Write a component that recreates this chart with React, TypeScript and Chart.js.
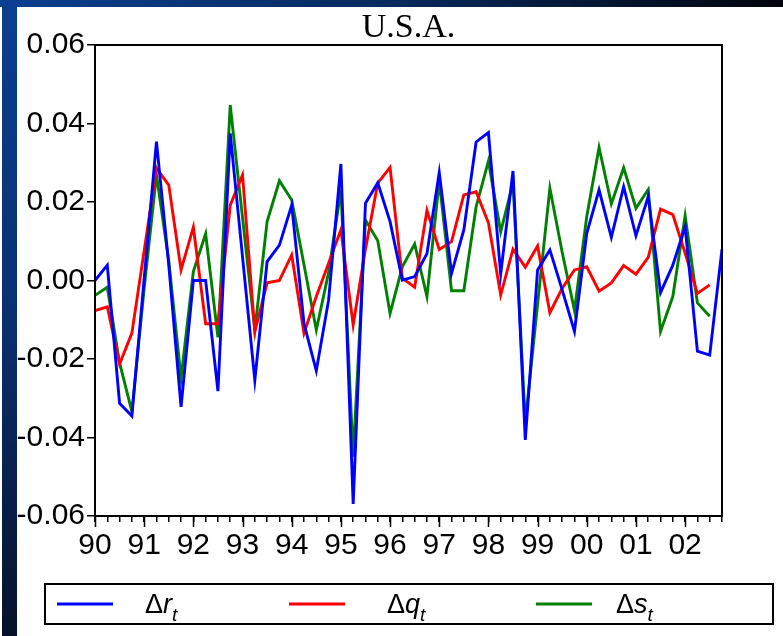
import React, { useEffect, useRef } from "react";
import { Chart, registerables } from "chart.js";
Chart.register(...registerables);

const years = ["90", "91", "92", "93", "94", "95", "96", "97", "98", "99", "00", "01", "02"];
const quarters = ["Q1", "Q2", "Q3", "Q4"];
const categories = years.flatMap((y) => quarters.map((q) => y + q));
const yTickLabels = ["-0.06", "-0.04", "-0.02", "0.00", "0.02", "0.04", "0.06"];
const chartTitle = "U.S.A.";
const seriesLetters = ["r", "q", "s"];
const seriesColors = ["#0000FF", "#FF0000", "#008000"];

const dR = [
  0.0, 0.0039, -0.0313, -0.0345, 0.0005, 0.0354, 0.004, -0.0322,
  0.0, 0.0, -0.0282, 0.0375, 0.006, -0.0254, 0.0048, 0.009,
  0.0192, -0.011, -0.023, -0.005, 0.0297, -0.0569, 0.0197, 0.0249,
  0.015, 0.0001, 0.001, 0.0068, 0.0275, 0.0018, 0.0129, 0.0353,
  0.0377, 0.0017, 0.0279, -0.0406, 0.0027, 0.0078, -0.0024, -0.013,
  0.012, 0.0231, 0.011, 0.0239, 0.0114, 0.0214, -0.0031, 0.0039,
  0.0137, -0.018, -0.019, 0.008,
];
const dQ = [
  -0.0077, -0.0067, -0.0213, -0.0134, 0.0076, 0.0286, 0.0243, 0.0027,
  0.0136, -0.011, -0.011, 0.0192, 0.0269, -0.013, -0.0006, 0.0,
  0.0065, -0.0134, -0.0041, 0.0044, 0.0129, -0.0113, 0.008, 0.0248,
  0.0288, 0.0006, -0.0017, 0.0178, 0.0079, 0.0099, 0.0218, 0.0226,
  0.0147, -0.0037, 0.008, 0.0034, 0.0088, -0.0082, -0.002, 0.0027,
  0.0035, -0.0027, -0.0006, 0.0038, 0.0016, 0.0059, 0.0182, 0.0168,
  0.007, -0.0033, -0.0011, null,
];
const dS = [
  -0.0038, -0.0017, -0.021, -0.0334, -0.002, 0.0269, 0.005, -0.0249,
  0.0023, 0.0119, -0.0145, 0.0447, 0.016, -0.0126, 0.015, 0.0254,
  0.0205, 0.004, -0.0126, 0.002, 0.0231, -0.0449, 0.0154, 0.0101,
  -0.0084, 0.0035, 0.0093, -0.0041, 0.0254, -0.0026, -0.0026, 0.0188,
  0.0304, 0.0124, 0.0249, -0.0362, -0.006, 0.0235, 0.0072, -0.0076,
  0.0163, 0.0339, 0.0195, 0.0287, 0.0184, 0.0232, -0.013, -0.0041,
  0.0165, -0.0057, -0.0091, null,
];
const seriesData = [dR, dQ, dS];

const SANS = "'Liberation Sans Narrow', 'Arial Narrow', 'Liberation Sans', Arial, sans-serif";
const SERIF = "'Liberation Serif', 'Times New Roman', serif";

const decorPlugin = {
  id: "decor",
  beforeDraw(chart: any) {
    const { ctx, width, height } = chart;
    ctx.save();
    ctx.fillStyle = "#ffffff";
    ctx.fillRect(0, 0, width, height);
    const g1 = ctx.createLinearGradient(0, 0, 0, height);
    g1.addColorStop(0, "#0b3f8f");
    g1.addColorStop(0.5, "#0a3070");
    g1.addColorStop(1, "#07112a");
    ctx.fillStyle = g1;
    ctx.fillRect(2, 0, 15, height);
    const g2 = ctx.createLinearGradient(0, 0, width, 0);
    g2.addColorStop(0, "#0b3f8f");
    g2.addColorStop(0.5, "#082a5e");
    g2.addColorStop(1, "#01040a");
    ctx.fillStyle = g2;
    ctx.fillRect(0, 0, width, 7);
    ctx.restore();
  },
  afterDraw(chart: any) {
    const { ctx, chartArea } = chart;
    const { left, right, top, bottom } = chartArea;
    const xs = chart.scales.x;
    ctx.save();
    // frame
    ctx.strokeStyle = "#000";
    ctx.lineWidth = 2;
    ctx.strokeRect(left, top, right - left, bottom - top);
    // major (yearly) ticks
    ctx.lineWidth = 1.5;
    ctx.beginPath();
    categories.forEach((_, i) => {
      if (i % 4 === 0) {
        const px = Math.round(xs.getPixelForValue(i)) + 0.5;
        ctx.moveTo(px, bottom);
        ctx.lineTo(px, bottom + 11);
      }
    });
    ctx.stroke();
    // title
    ctx.fillStyle = "#000";
    ctx.font = `34px ${SERIF}`;
    ctx.textAlign = "center";
    ctx.textBaseline = "alphabetic";
    ctx.fillText(chartTitle, (left + right) / 2, 37);
    // legend box
    ctx.lineWidth = 2;
    ctx.strokeRect(45, 584, 728, 40);
    const lineStarts = [57, 289, 536];
    const textStarts = [145, 387, 616];
    seriesLetters.forEach((letter, k) => {
      ctx.strokeStyle = seriesColors[k];
      ctx.lineWidth = 3;
      ctx.beginPath();
      ctx.moveTo(lineStarts[k], 604);
      ctx.lineTo(lineStarts[k] + 56, 604);
      ctx.stroke();
      ctx.fillStyle = "#000";
      ctx.textAlign = "left";
      let x = textStarts[k];
      ctx.font = `27px ${SANS}`;
      ctx.fillText("\u0394", x, 613);
      x += ctx.measureText("\u0394").width;
      ctx.font = `italic 27px ${SANS}`;
      ctx.fillText(letter, x, 613);
      x += ctx.measureText(letter).width;
      ctx.font = `italic 19px ${SANS}`;
      ctx.fillText("t", x, 621);
    });
    ctx.restore();
  },
};

export default function App() {
  const ref = useRef<HTMLCanvasElement | null>(null);
  useEffect(() => {
    if (!ref.current) return;
    const chart = new Chart(ref.current, {
      type: "line",
      data: {
        labels: categories,
        datasets: seriesData.map((d, k) => ({
          label: "\u0394" + seriesLetters[k],
          data: d,
          borderColor: seriesColors[k],
          backgroundColor: seriesColors[k],
          borderWidth: 2.9,
          pointRadius: 0,
          fill: false,
          tension: 0,
          spanGaps: false,
        })),
      },
      options: {
        responsive: false,
        animation: false,
        devicePixelRatio: 1,
        layout: { padding: { left: 17, right: 61, top: 45, bottom: 70 } },
        plugins: { legend: { display: false }, title: { display: false }, tooltip: { enabled: false } },
        scales: {
          x: {
            type: "category",
            offset: false,
            afterFit: (s: any) => {
              s.height = 50;
            },
            grid: { drawOnChartArea: false, drawTicks: true, tickLength: 6, color: "#000", lineWidth: 1.5 },
            border: { display: true, color: "#000", width: 2 },
            ticks: {
              autoSkip: false,
              maxRotation: 0,
              minRotation: 0,
              padding: 6,
              color: "#000",
              font: { family: SANS, size: 30 },
              callback: (_v: any, i: number) => (i % 4 === 0 ? years[i / 4] : ""),
            },
          },
          y: {
            min: -0.06,
            max: 0.06,
            afterFit: (s: any) => {
              s.width = 78;
            },
            grid: { drawOnChartArea: false, drawTicks: true, tickLength: 8, color: "#000", lineWidth: 1.5 },
            border: { display: true, color: "#000", width: 2 },
            ticks: {
              stepSize: 0.02,
              padding: 2,
              color: "#000",
              font: { family: SANS, size: 30 },
              callback: (_v: any, i: number) => yTickLabels[i],
            },
          },
        },
      },
      plugins: [decorPlugin],
    });
    return () => chart.destroy();
  }, []);
  return (
    <div style={{ position: "absolute", left: 0, top: 0, width: 783, height: 636 }}>
      <canvas ref={ref} width={783} height={636} style={{ width: 783, height: 636, display: "block" }} />
    </div>
  );
}
